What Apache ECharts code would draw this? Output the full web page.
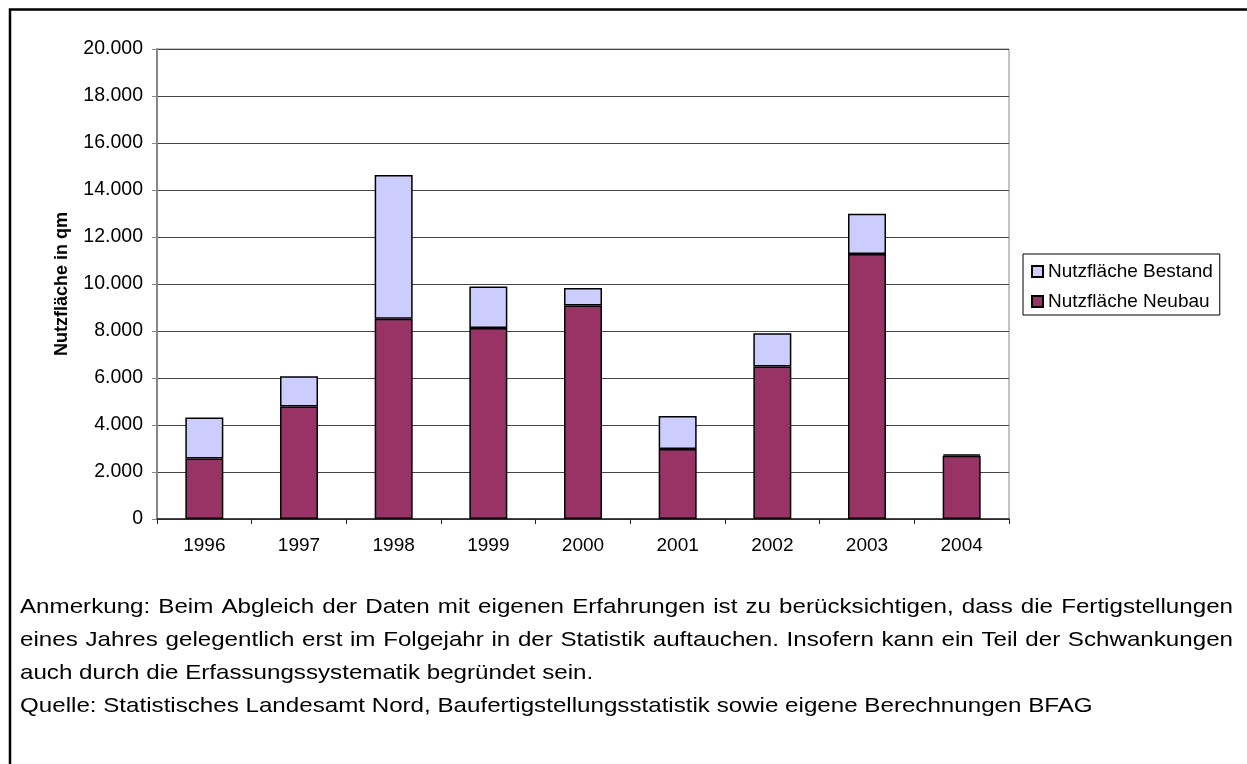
<!DOCTYPE html>
<html>
<head>
<meta charset="utf-8">
<script src="https://cdn.jsdelivr.net/npm/echarts@6/dist/echarts.min.js"></script>
<style>
  html, body { margin: 0; padding: 0; background: #fff; }
  #chart { width: 1247px; height: 764px; }
</style>
</head>
<body>
<div id="chart"></div>
<script>
const years = ["1996", "1997", "1998", "1999", "2000", "2001", "2002", "2003", "2004"];
const neubau = [2570, 4790, 8520, 8130, 9080, 2980, 6490, 11280, 2690];
const bestand = [1750, 1280, 6120, 1760, 750, 1400, 1410, 1710, 60];
const yMax = 20000;
const yStep = 2000;
const noteLines = [
  "Anmerkung: Beim Abgleich der Daten mit eigenen Erfahrungen ist zu berücksichtigen, dass die Fertigstellungen",
  "eines Jahres gelegentlich erst im Folgejahr in der Statistik auftauchen. Insofern kann ein Teil der Schwankungen",
  "auch durch die Erfassungssystematik begründet sein.",
  "Quelle: Statistisches Landesamt Nord, Baufertigstellungsstatistik sowie eigene Berechnungen BFAG",
];
const justified = [true, true, false, false];

const FONT = '"Liberation Sans", Arial, sans-serif';
const NOTE_SIZE = 21;
const NOTE_STRETCH = 1.15; // Vorlage ist etwas breit gezogen

// deutsche Tausendertrennung
function fmt(v) {
  if (v < 1000) return String(v);
  return Math.floor(v / 1000) + "." + String(v % 1000).padStart(3, "0");
}

function noteText(str, x, y) {
  return {
    type: "text", x: x, y: y, scaleX: NOTE_STRETCH,
    style: { text: str, font: NOTE_SIZE + "px " + FONT, fill: "#000", verticalAlign: "middle" },
  };
}

// Blocksatz: Woerter einzeln setzen
function noteGraphics() {
  const ctx = document.createElement("canvas").getContext("2d");
  ctx.font = NOTE_SIZE + "px " + FONT;
  const left = 20, right = 1233, top = 607, lh = 33;
  const els = [];
  noteLines.forEach((line, i) => {
    const y = top + i * lh;
    if (!justified[i]) {
      els.push(noteText(line, left, y));
      return;
    }
    const words = line.split(" ");
    const widths = words.map((w) => ctx.measureText(w).width * NOTE_STRETCH);
    const total = widths.reduce((a, b) => a + b, 0);
    const gap = (right - left - total) / (words.length - 1);
    let x = left;
    words.forEach((w, j) => {
      els.push(noteText(w, x, y));
      x += widths[j] + gap;
    });
  });
  return els;
}

const myChart = echarts.init(document.getElementById("chart"));
myChart.setOption({
  animation: false,
  backgroundColor: "#fff",
  textStyle: { fontFamily: FONT },
  grid: {
    left: 157,
    right: 238,
    top: 49,
    bottom: 245,
    show: true,
    borderColor: "#888",
    borderWidth: 1,
  },
  legend: {
    orient: "vertical",
    left: 1023,
    top: 254,
    padding: [8, 7, 4, 8],
    itemGap: 11,
    itemWidth: 11,
    itemHeight: 11,
    icon: "rect",
    borderColor: "#000",
    borderWidth: 1,
    data: ["Nutzfläche Bestand", "Nutzfläche Neubau"],
    textStyle: { fontSize: 19, color: "#000", lineHeight: 19 },
  },
  xAxis: {
    type: "category",
    data: years,
    axisLine: { lineStyle: { color: "#222", width: 1.5 } },
    axisTick: { show: true, length: 5, lineStyle: { color: "#222" } },
    axisLabel: { color: "#000", fontSize: 19, margin: 17 },
  },
  yAxis: {
    type: "value",
    min: 0,
    max: yMax,
    interval: yStep,
    name: "Nutzfläche in qm",
    nameLocation: "middle",
    nameGap: 86,
    nameTextStyle: { fontSize: 18, fontWeight: "bold", color: "#000" },
    axisLine: { show: true, lineStyle: { color: "#888", width: 2 } },
    axisTick: { show: true, length: 5, lineStyle: { color: "#888" } },
    axisLabel: { color: "#000", fontSize: 19.5, margin: 14, formatter: fmt },
    splitLine: { show: true, lineStyle: { color: "#444", width: 1 } },
  },
  series: [
    {
      name: "Nutzfläche Neubau",
      type: "bar",
      stack: "gesamt",
      barWidth: 38,
      itemStyle: { color: "#993366", borderColor: "#000", borderWidth: 1.5 },
      data: neubau,
    },
    {
      name: "Nutzfläche Bestand",
      type: "bar",
      stack: "gesamt",
      barWidth: 38,
      itemStyle: { color: "#ccccff", borderColor: "#000", borderWidth: 1.5 },
      data: bestand,
    },
  ],
  graphic: [
    {
      type: "polyline",
      shape: { points: [[10, 764], [10, 9.5], [1247, 9.5]] },
      style: { stroke: "#000", lineWidth: 2.5, fill: null },
    },
  ].concat(noteGraphics()),
});
</script>
</body>
</html>
